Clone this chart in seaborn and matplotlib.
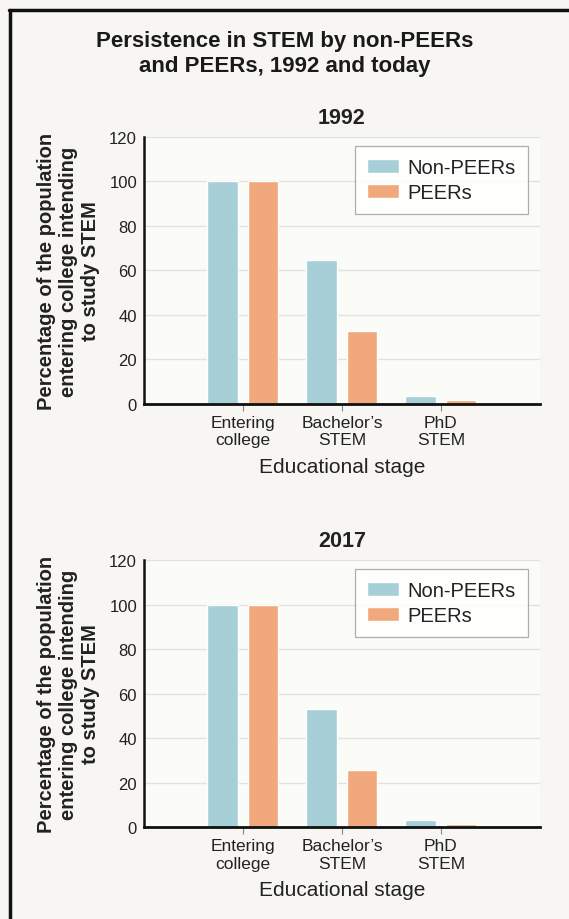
import matplotlib
matplotlib.use("Agg")
import matplotlib.pyplot as plt
from matplotlib.lines import Line2D
import seaborn as sns
import pandas as pd

stages = ["Entering\ncollege", "Bachelor\u2019s\nSTEM", "PhD\nSTEM"]
groups = ["Non-PEERs", "PEERs"]
non_peers_1992 = [100, 64.5, 3.5]
peers_1992 = [100, 33, 1.8]
non_peers_2017 = [100, 53, 3.2]
peers_2017 = [100, 25.5, 1.5]
years = ["1992", "2017"]
yticks = [0, 20, 40, 60, 80, 100, 120]

colors = {"Non-PEERs": "#a6cfd8", "PEERs": "#f0a87c"}

sns.set_theme(style="white")
plt.rcParams["font.family"] = ["Liberation Sans", "DejaVu Sans"]

fig = plt.figure(figsize=(5.69, 9.2), dpi=100)
fig.patch.set_facecolor("#f7f6f2")

positions = [[0.253, 0.5598, 0.696, 0.2902], [0.253, 0.10, 0.696, 0.2902]]
data_sets = [(non_peers_1992, peers_1992), (non_peers_2017, peers_2017)]

for pos, year, (np_vals, p_vals) in zip(positions, years, data_sets):
    ax = fig.add_axes(pos)
    df = pd.DataFrame({
        "stage": stages * 2,
        "group": [groups[0]] * 3 + [groups[1]] * 3,
        "value": list(np_vals) + list(p_vals),
    })
    sns.barplot(data=df, x="stage", y="value", hue="group", order=stages,
                hue_order=groups, palette=colors, width=0.82, gap=0.25,
                ax=ax, saturation=1, zorder=3)
    ax.set_facecolor("#fbfbf8")
    ax.set_xlim(-1, 3)
    ax.set_ylim(0, 120)
    ax.set_yticks(yticks)
    ax.yaxis.grid(True, color="#e2e2e0", linewidth=1.0, zorder=0)
    ax.set_axisbelow(True)
    for s in ["top", "right"]:
        ax.spines[s].set_visible(False)
    ax.spines["left"].set_color("#111111")
    ax.spines["left"].set_linewidth(1.8)
    ax.spines["bottom"].set_color("#111111")
    ax.spines["bottom"].set_linewidth(2.0)
    ax.spines["bottom"].set_zorder(5)
    ax.tick_params(axis="x", bottom=True, length=5, width=0.8, color="#888888",
                   labelsize=12.5, labelcolor="#222222", pad=3)
    ax.tick_params(axis="y", left=False, length=0, labelsize=12,
                   labelcolor="#222222", pad=5)
    ax.set_xlabel("Educational stage", fontsize=15, color="#222222", labelpad=7)
    ax.set_ylabel("Percentage of the population\nentering college intending\nto study STEM",
                  fontsize=14.5, fontweight="semibold", color="#222222", labelpad=6.5,
                  linespacing=1.2)
    ax.set_title(year, fontsize=15.5, fontweight="bold", color="#222222", pad=10)
    leg = ax.legend(loc="upper right", bbox_to_anchor=(0.970, 0.967), fontsize=14.5,
                    frameon=True, fancybox=False, edgecolor="#999999",
                    handlelength=1.55, handleheight=0.65, borderpad=0.6,
                    labelspacing=0.3, handletextpad=0.45, borderaxespad=0.0)
    leg.get_frame().set_linewidth(0.9)
    leg.get_frame().set_facecolor("white")
    for t in leg.get_texts():
        t.set_color("#222222")

fig.text(0.5, 0.966, "Persistence in STEM by non-PEERs\nand PEERs, 1992 and today",
         ha="center", va="top", fontsize=16, fontweight="bold", color="#1a1a1a",
         linespacing=1.25)

fig.add_artist(Line2D([9.5 / 569, 9.5 / 569], [0, 1 - 11 / 920],
                      transform=fig.transFigure, color="#111111", linewidth=2.5))
fig.add_artist(Line2D([8.5 / 569, 1], [1 - 11 / 920, 1 - 11 / 920],
                      transform=fig.transFigure, color="#111111", linewidth=2.5))

fig.savefig("out.png", dpi=100, facecolor=fig.get_facecolor())
